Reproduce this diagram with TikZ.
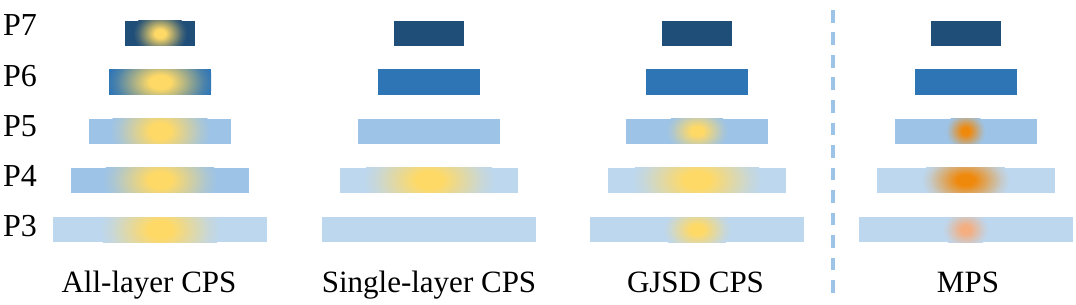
\documentclass[tikz,border=0pt]{standalone}
\usepackage{fontspec}
\setmainfont{Liberation Serif}
\definecolor{dk}{HTML}{1F4E79}
\definecolor{md}{HTML}{2E75B6}
\definecolor{lt}{HTML}{9DC3E6}
\definecolor{vl}{HTML}{BDD7EE}
\definecolor{yel}{HTML}{FFD966}
\definecolor{org}{HTML}{EF890C}
\definecolor{pch}{HTML}{F4AE80}
\colorlet{spotc}{yel}
\colorlet{barc}{lt}
\colorlet{spma}{spotc!50!barc}
\colorlet{spmb}{spotc!15!barc}
\pgfdeclareradialshading[spotc,barc,spma,spmb]{spotsh}{\pgfpoint{0bp}{0bp}}{color(0bp)=(spotc); color(5bp)=(spotc); color(14bp)=(spma); color(20.5bp)=(spmb); color(25bp)=(barc); color(50bp)=(barc)}
\newcommand\mkspot[5]{%
  \begin{scope}
    \clip (#1.south west) rectangle (#1.north east);
    \colorlet{spotc}{#2}\colorlet{barc}{#3}%
    \colorlet{spma}{#2!50!#3}\colorlet{spmb}{#2!15!#3}%
    \shade[shading=spotsh] (#1.center) ellipse[x radius=#4pt, y radius=#5pt];
  \end{scope}}
\begin{document}
\begin{tikzpicture}[x=1pt,y=-1pt,
  bar/.style={rectangle, inner sep=0pt, outer sep=0pt, minimum height=25pt},
  lbl/.style={anchor=base west, inner sep=0pt, font=\fontsize{32}{36}\selectfont},
  captxt/.style={anchor=base, inner sep=0pt, font=\fontsize{31}{36}\selectfont},
  sepline/.style={draw=lt, line width=4pt, dash pattern=on 12.7pt off 9.8pt}]
\useasboundingbox (0,0) rectangle (1076,305);
% row labels
\node[lbl] (l7) at (3,36) {P7};
\node[lbl] (l6) at (3,86) {P6};
\node[lbl] (l5) at (3,136) {P5};
\node[lbl] (l4) at (3,186.5) {P4};
\node[lbl] (l3) at (3,236.5) {P3};
% column 1: All-layer CPS
\node[bar, fill=dk, minimum width=70pt]  (a7) at (160,33.5) {};
\node[bar, fill=md, minimum width=102pt] (a6) at (160,82) {};
\node[bar, fill=lt, minimum width=142pt] (a5) at (160,131) {};
\node[bar, fill=lt, minimum width=178pt] (a4) at (160,180) {};
\node[bar, fill=vl, minimum width=214pt] (a3) at (160,229.5) {};
\mkspot{a7}{yel}{dk}{27}{22}
\mkspot{a6}{yel}{md}{53}{34}
\mkspot{a5}{yel}{lt}{50}{40}
\mkspot{a4}{yel}{lt}{57}{40}
\mkspot{a3}{yel}{vl}{60}{42}
% column 2: Single-layer CPS
\node[bar, fill=dk, minimum width=70pt]  (b7) at (429,33.5) {};
\node[bar, fill=md, minimum width=102pt] (b6) at (429,82) {};
\node[bar, fill=lt, minimum width=142pt] (b5) at (429,131) {};
\node[bar, fill=vl, minimum width=178pt] (b4) at (429,180) {};
\node[bar, fill=vl, minimum width=214pt] (b3) at (429,229.5) {};
\mkspot{b4}{yel}{vl}{66}{42}
% column 3: GJSD CPS
\node[bar, fill=dk, minimum width=70pt]  (c7) at (697,33.5) {};
\node[bar, fill=md, minimum width=102pt] (c6) at (697,82) {};
\node[bar, fill=lt, minimum width=142pt] (c5) at (697,131) {};
\node[bar, fill=vl, minimum width=178pt] (c4) at (697,180) {};
\node[bar, fill=vl, minimum width=214pt] (c3) at (697,229.5) {};
\mkspot{c5}{yel}{lt}{31}{23}
\mkspot{c4}{yel}{vl}{65}{42}
\mkspot{c3}{yel}{vl}{34}{25}
% column 4: MPS
\node[bar, fill=dk, minimum width=70pt]  (d7) at (965.5,33.5) {};
\node[bar, fill=md, minimum width=102pt] (d6) at (965.5,82) {};
\node[bar, fill=lt, minimum width=142pt] (d5) at (965.5,131) {};
\node[bar, fill=vl, minimum width=178pt] (d4) at (965.5,180) {};
\node[bar, fill=vl, minimum width=214pt] (d3) at (965.5,229.5) {};
\mkspot{d5}{org}{lt}{20}{19}
\mkspot{d4}{org}{vl}{44}{28}
\mkspot{d3}{pch}{vl}{23}{20}
% separator
\coordinate (s1) at (833,10);
\coordinate (s2) at (833,293);
\draw[sepline] (s1) -- (s2);
% captions
\node[captxt] (ca) at (149,292) {All-layer CPS};
\node[captxt] (cb) at (429,292) {Single-layer CPS};
\node[captxt] (cc) at (695.5,292) {GJSD CPS};
\node[captxt] (cd) at (968,292) {MPS};
\end{tikzpicture}
\end{document}
